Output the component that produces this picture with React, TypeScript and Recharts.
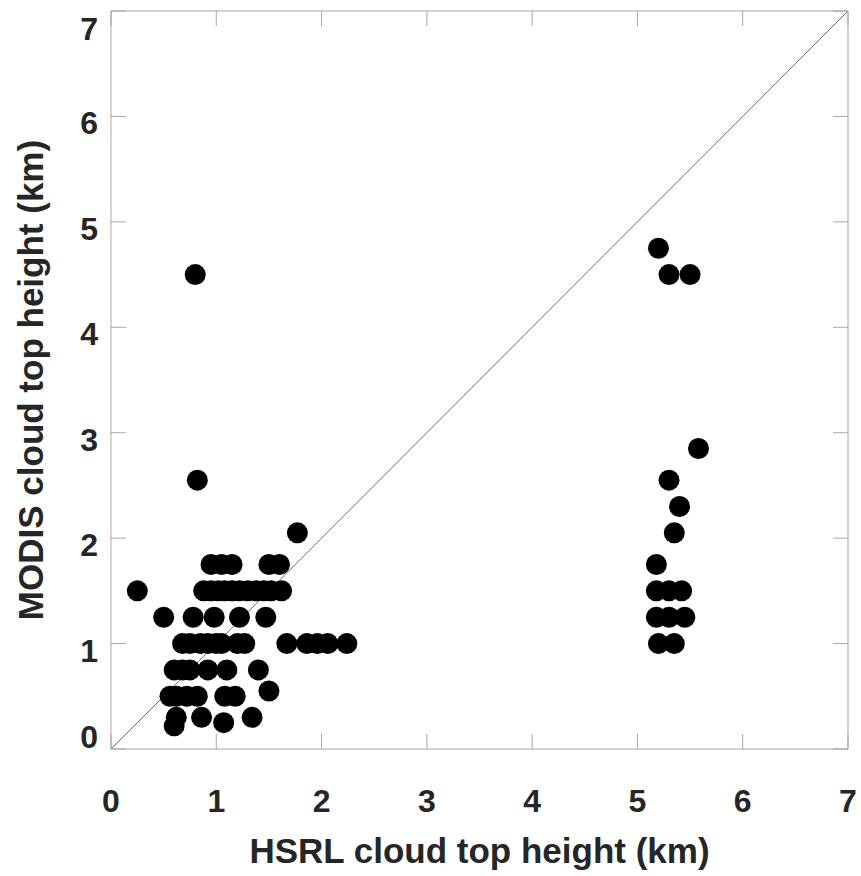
import React from 'react';
import { ScatterChart, Scatter, XAxis, YAxis, ReferenceLine, Label } from 'recharts';

// HSRL cloud top height (km) vs MODIS cloud top height (km)
const hsrlHeight = [
  0.25, 0.5, 0.8, 0.82, 1.77,
  0.95, 1.05, 1.15, 1.5, 1.6,
  0.88, 0.95, 1.02, 1.08, 1.15, 1.22, 1.3, 1.38, 1.45, 1.52, 1.62,
  0.78, 0.98, 1.22, 1.47,
  0.68, 0.75, 0.85, 0.92, 1.0, 1.05, 1.2, 1.27,
  1.67, 1.86, 1.96, 2.06, 2.24,
  0.6, 0.68, 0.75, 0.92, 1.1, 1.4,
  0.56, 0.62, 0.72, 0.82, 1.08, 1.18, 1.5,
  0.62, 0.6, 0.86, 1.07, 1.34,
  5.2, 5.3, 5.5, 5.58, 5.3, 5.4, 5.35, 5.18,
  5.18, 5.3, 5.42,
  5.18, 5.3, 5.45,
  5.2, 5.35,
];

const modisHeight = [
  1.5, 1.25, 4.5, 2.55, 2.05,
  1.75, 1.75, 1.75, 1.75, 1.75,
  1.5, 1.5, 1.5, 1.5, 1.5, 1.5, 1.5, 1.5, 1.5, 1.5, 1.5,
  1.25, 1.25, 1.25, 1.25,
  1.0, 1.0, 1.0, 1.0, 1.0, 1.0, 1.0, 1.0,
  1.0, 1.0, 1.0, 1.0, 1.0,
  0.75, 0.75, 0.75, 0.75, 0.75, 0.75,
  0.5, 0.5, 0.5, 0.5, 0.5, 0.5, 0.55,
  0.3, 0.22, 0.3, 0.25, 0.3,
  4.75, 4.5, 4.5, 2.85, 2.55, 2.3, 2.05, 1.75,
  1.5, 1.5, 1.5,
  1.25, 1.25, 1.25,
  1.0, 1.0,
];

const axisTicks = [0, 1, 2, 3, 4, 5, 6, 7];

const data = hsrlHeight.map((x, i) => ({ x, y: modisHeight[i] }));

const FRAME = '#a6a6a6';
const TEXT = '#262626';
const FONT = '"Liberation Sans", Arial, sans-serif';
const TICK_LEN = 15;
// plot box size, used to mirror the inward ticks on the top and right edges
const PLOT_W = 737;
const PLOT_H = 738;

const BottomTick = ({ x, y, payload }: any) => (
  <g>
    <line x1={x} y1={y} x2={x} y2={y - TICK_LEN} stroke={FRAME} />
    <line x1={x} y1={y - PLOT_H} x2={x} y2={y - PLOT_H + TICK_LEN} stroke={FRAME} />
    <text x={x} y={y + 63} textAnchor="middle" fontSize={32} fontWeight="bold" fill={TEXT} fontFamily={FONT}>
      {payload.value}
    </text>
  </g>
);

// the end labels sit pushed inside the frame, like the original
const LeftTick = ({ x, y, payload }: any) => {
  const shift = payload.value === 7 ? 17 : payload.value === 0 ? -13 : 6;
  return (
    <g>
      <line x1={x} y1={y} x2={x + TICK_LEN} y2={y} stroke={FRAME} />
      <line x1={x + PLOT_W} y1={y} x2={x + PLOT_W - TICK_LEN} y2={y} stroke={FRAME} />
      <text x={x - 13} y={y + shift + 12} textAnchor="end" fontSize={32} fontWeight="bold" fill={TEXT} fontFamily={FONT}>
        {payload.value}
      </text>
    </g>
  );
};

const Dot = ({ cx, cy }: any) => <circle cx={cx} cy={cy} r={10.5} fill="#000" />;

export default function App() {
  return (
    <div style={{ position: 'absolute', left: 0, top: 0, background: '#fff' }}>
      <ScatterChart width={861} height={876} margin={{ top: 10, right: 12, left: 0, bottom: 0 }}>
        <XAxis
          dataKey="x"
          type="number"
          domain={[0, 7]}
          ticks={axisTicks}
          height={127}
          tickSize={0}
          tickMargin={0}
          tickLine={false}
          axisLine={{ stroke: FRAME }}
          tick={<BottomTick />}
          interval={0}
        >
          <Label
            content={({ viewBox }: any) => (
              <text
                x={viewBox.x + viewBox.width / 2}
                y={viewBox.y + 114}
                textAnchor="middle"
                fontSize={35}
                fontWeight="bold"
                fill={TEXT}
                fontFamily={FONT}
              >
                HSRL cloud top height (km)
              </text>
            )}
          />
        </XAxis>
        <XAxis
          xAxisId="top"
          orientation="top"
          type="number"
          domain={[0, 7]}
          height={1}
          tick={false}
          tickLine={false}
          axisLine={{ stroke: FRAME }}
        />
        <YAxis
          dataKey="y"
          type="number"
          domain={[0, 7]}
          ticks={axisTicks}
          width={111}
          tickSize={0}
          tickMargin={0}
          tickLine={false}
          axisLine={{ stroke: FRAME }}
          tick={<LeftTick />}
          interval={0}
        >
          <Label
            content={({ viewBox }: any) => (
              <text
                x={43}
                y={viewBox.y + viewBox.height / 2}
                transform={`rotate(-90, 43, ${viewBox.y + viewBox.height / 2})`}
                textAnchor="middle"
                fontSize={35}
                fontWeight="bold"
                fill={TEXT}
                fontFamily={FONT}
              >
                MODIS cloud top height (km)
              </text>
            )}
          />
        </YAxis>
        <YAxis
          yAxisId="right"
          orientation="right"
          type="number"
          domain={[0, 7]}
          width={1}
          tick={false}
          tickLine={false}
          axisLine={{ stroke: FRAME }}
        />
        <ReferenceLine
          segment={[{ x: 0, y: 0 }, { x: 7, y: 7 }]}
          stroke="#6e6e6e"
          strokeWidth={1}
          ifOverflow="visible"
        />
        <Scatter data={data} shape={<Dot />} isAnimationActive={false} />
      </ScatterChart>
    </div>
  );
}
